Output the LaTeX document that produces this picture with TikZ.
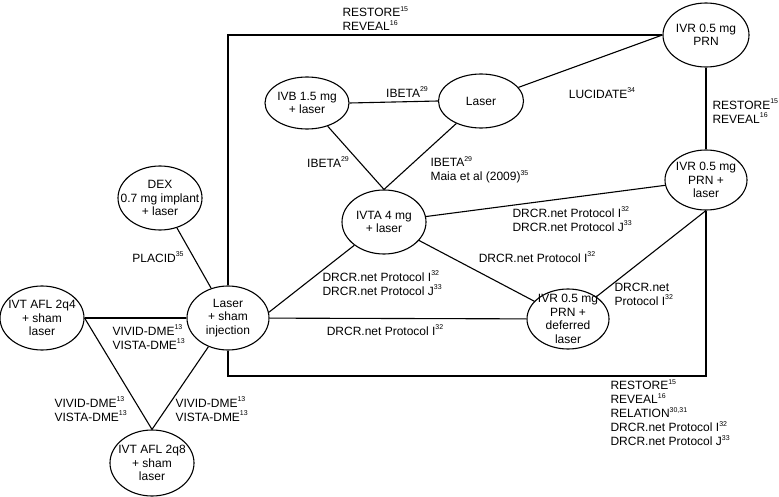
\documentclass[tikz,border=0pt]{standalone}
\usepackage{fontspec}
\setmainfont{Liberation Sans}
\usetikzlibrary{shapes.geometric}
\newcommand{\rf}[1]{\raisebox{0.85ex}{\fontsize{7}{7}\selectfont #1}}
\tikzset{
    trt/.style={
           draw, ellipse,
           line width=1.1pt,
           inner sep=0pt,
           minimum width=84pt,
           minimum height=64pt,
           },
    lbl/.style={
           inner sep=0pt,
           align=left,
           font=\fontsize{12}{14}\selectfont,
           },
    every label/.style={
           inner sep=0pt,
           align=center,
           font=\fontsize{12}{13.5}\selectfont,
           },
}

\begin{document}
\begin{tikzpicture}[x=1pt,y=-1pt,line width=1.1pt]
 \useasboundingbox (0,0) rectangle (779,497);

 % treatments (ellipses), text put in the centre as label
 \node[trt, minimum width=86pt, label={center:IVR 0.5 mg\\PRN}] (ivrprn) at (706,35) {};
 \node[trt, minimum height=52pt, label={center:IVB 1.5 mg\\+ laser}] (ivb) at (307,103) {};
 \node[trt, minimum width=85pt, minimum height=54pt, label={center:Laser}] (laser) at (481,101) {};
 \node[trt, minimum width=82pt, minimum height=60pt, label={center:IVR 0.5 mg\\PRN +\\laser}] (ivrlaser) at (706,180) {};
 \node[trt, label={center:IVTA 4 mg\\+ laser}] (ivta) at (384,222) {};
 \node[trt, label={center:DEX\\0.7 mg implant\\+ laser}] (dex) at (160,198) {};
 \node[trt, minimum width=82pt, label={center:Laser\\+ sham\\injection}] (sham) at (228,318) {};
 \node[trt, minimum width=82pt, minimum height=60pt, label={center:IVR 0.5 mg\\PRN +\\deferred\\laser}] (ivrdef) at (568,319) {};
 \node[trt, label={center:IVT AFL 2q4\\+ sham\\laser}] (afl4) at (42,318) {};
 \node[trt, minimum height=66pt, label={center:IVT AFL 2q8\\+ sham\\laser}] (afl8) at (152,463) {};

 % the big frame round the middle
 \coordinate (framebot) at (568,376);
 \draw (sham.north) |- (ivrprn.west);
 \draw (sham.south) |- (framebot) -| (ivrlaser.south);

 % trials between treatments
 \path (ivb.east)  edge (laser.west)
       (laser)     edge (ivrprn.west)
       (ivrprn)    edge (ivrlaser)
       (ivb)       edge (ivta.north)
       (laser)     edge (ivta.north)
       (ivta)      edge (ivrlaser)
       (ivta)      edge (ivrdef)
       (ivrdef)    edge (ivrlaser.south)
       (sham.8)    edge (ivta)
       (sham)      edge (ivrdef)
       (dex)       edge (sham)
       (afl4)      edge (sham)
       (afl4.east) edge (afl8.north)
       (sham)      edge (afl8.north);

 % trial names
 \node[lbl, anchor=south west] (frametop) at (342,31) {RESTORE\rf{15}\\REVEAL\rf{16}};
 \node[lbl] (ibetatop) at (407,92) {IBETA\rf{29}};
 \node[lbl] (lucidate) at (602,93) {LUCIDATE\rf{34}};
 \node[lbl, anchor=west] (restoreright) at (712,111) {RESTORE\rf{15}\\REVEAL\rf{16}};
 \node[lbl] (ibetaleft) at (328,162) {IBETA\rf{29}};
 \node[lbl, anchor=west] (maia) at (430,170) {IBETA\rf{29}\\Maia et al (2009)\rf{35}};
 \node[lbl, anchor=west] (protij) at (512,219) {DRCR.net Protocol I\rf{32}\\DRCR.net Protocol J\rf{33}};
 \node[lbl] (proti) at (537,257) {DRCR.net Protocol I\rf{32}};
 \node[lbl, anchor=west] (protright) at (614,294) {DRCR.net\\Protocol I\rf{32}};
 \node[lbl, anchor=west] (protshamij) at (322,283) {DRCR.net Protocol I\rf{32}\\DRCR.net Protocol J\rf{33}};
 \node[lbl] (protshami) at (385,330) {DRCR.net Protocol I\rf{32}};
 \node[lbl] (placid) at (158,257) {PLACID\rf{35}};
 \node[lbl, anchor=west] (vividmid) at (112,337) {VIVID-DME\rf{13}\\VISTA-DME\rf{13}};
 \node[lbl, anchor=west] (vividleft) at (54,409) {VIVID-DME\rf{13}\\VISTA-DME\rf{13}};
 \node[lbl, anchor=west] (vividright) at (175,409) {VIVID-DME\rf{13}\\VISTA-DME\rf{13}};
 \node[lbl, anchor=north west] (framebottom) at (610,379)
  {RESTORE\rf{15}\\REVEAL\rf{16}\\RELATION\rf{30,31}\\DRCR.net Protocol I\rf{32}\\DRCR.net Protocol J\rf{33}};

\end{tikzpicture}
\end{document}
